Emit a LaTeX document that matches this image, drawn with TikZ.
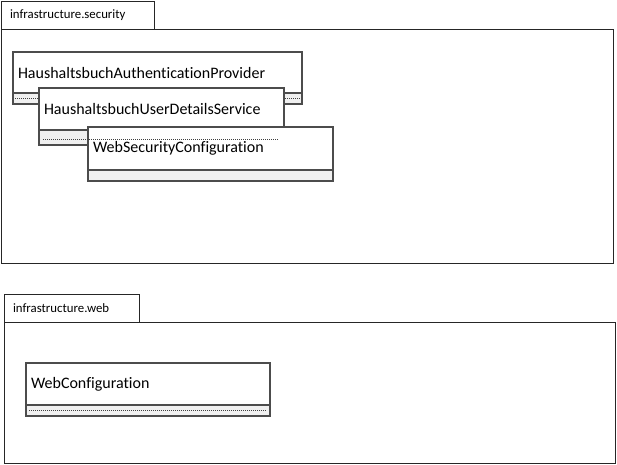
\documentclass[tikz,border=0pt]{standalone}
\usepackage{fontspec}
\setmainfont{Carlito}[Ligatures=NoCommon]
\usepackage{xcolor}

\tikzset{
  pkgtab/.style={draw=black!85, line width=1pt, fill=white, anchor=north west, outer sep=0pt,
    inner xsep=9pt, inner ysep=0pt, minimum height=28pt, font=\fontsize{12.8}{14}\selectfont},
  pkgbody/.style={draw=black!85, line width=1pt, fill=white, anchor=north west, inner sep=0pt, outer sep=0pt},
  classname/.style={draw=black!70, line width=1.4pt, fill=white, anchor=north west, outer sep=0pt,
    inner xsep=5pt, inner ysep=0pt, align=left, font=\fontsize{16}{18}\selectfont},
  classops/.style={draw=black!70, line width=1.4pt, fill=black!6, anchor=north, inner sep=0pt, outer sep=0pt},
  opsline/.style={black!75, line width=0.5pt, dash pattern=on 1pt off 1pt}
}

\begin{document}
\begin{tikzpicture}[x=1pt,y=-1pt]
    \useasboundingbox (0,0) rectangle (617,464);

    % Paket infrastructure.security
    \node[pkgbody, minimum width=612pt, minimum height=234pt] (secBody) at (1,29) {};
    \node[pkgtab, text width=135pt] (secTab) at (1,1) {infrastructure.security};

    % HaushaltsbuchAuthenticationProvider
    \node[classname, text width=279pt, minimum height=41pt] (authProv) at (13,52) {HaushaltsbuchAuthenticationProvider};
    \node[classops, minimum width=289pt, minimum height=11pt] (authProvOps) at (authProv.south) {};
    \draw[opsline] ([xshift=2pt]authProvOps.west) -- ([xshift=-2pt]authProvOps.east);

    % HaushaltsbuchUserDetailsService
    \node[classname, text width=235pt, minimum height=42pt] (userDetails) at (39,88) {HaushaltsbuchUserDetailsService};
    \node[classops, minimum width=245pt, minimum height=15pt] (userDetailsOps) at (userDetails.south) {};

    % WebSecurityConfiguration
    \node[classname, text width=235pt, minimum height=43pt] (webSec) at (88,127) {WebSecurityConfiguration};
    \node[classops, minimum width=245pt, minimum height=11pt] (webSecOps) at (webSec.south) {};

    % Trennlinie liegt ueber WebSecurityConfiguration
    \draw[opsline] ([xshift=4pt,yshift=-1.5pt]userDetailsOps.west) -- ([xshift=-5pt,yshift=-1.5pt]userDetailsOps.east);

    % Paket infrastructure.web
    \node[pkgbody, minimum width=611pt, minimum height=141pt] (webBody) at (4,322) {};
    \node[pkgtab, text width=117pt] (webTab) at (4,294) {infrastructure.web};

    % WebConfiguration
    \node[classname, text width=234pt, minimum height=42pt] (webConf) at (26,363) {WebConfiguration};
    \node[classops, minimum width=244pt, minimum height=11pt] (webConfOps) at (webConf.south) {};
    \draw[opsline] ([xshift=3pt]webConfOps.west) -- ([xshift=-3pt]webConfOps.east);
\end{tikzpicture}
\end{document}
